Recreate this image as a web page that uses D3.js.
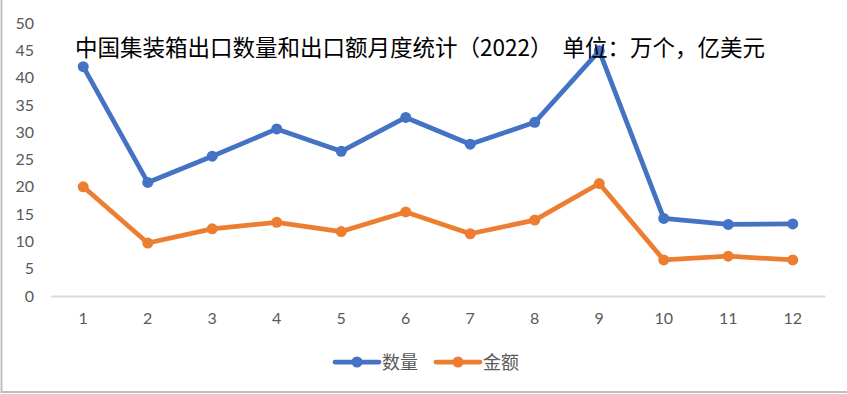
<!DOCTYPE html>
<html>
<head>
<meta charset="utf-8">
<script src="https://cdn.jsdelivr.net/npm/d3@7"></script>
<style>
  body { margin: 0; background: #fff; }
  svg { display: block; }
</style>
</head>
<body>
<div class="svg"></div>
<script>
var months = ["1", "2", "3", "4", "5", "6", "7", "8", "9", "10", "11", "12"];
var quantity = [42.0, 20.8, 25.6, 30.6, 26.5, 32.7, 27.8, 31.8, 44.9, 14.2, 13.1, 13.2];
var amount = [20.0, 9.7, 12.3, 13.5, 11.8, 15.4, 11.4, 13.9, 20.6, 6.6, 7.3, 6.6];
var yTicks = [0, 5, 10, 15, 20, 25, 30, 35, 40, 45, 50];
var seriesNames = ["数量", "金额"];
var title = "中国集装箱出口数量和出口额月度统计（2022）  单位：万个，亿美元";

var w = 847, h = 394;
var margin = { top: 23, bottom: 98, left: 51, right: 22 };
var width = w - margin.left - margin.right;
var height = h - margin.top - margin.bottom;
var colors = ["#4472C4", "#ED7D31"];
var numFont = "Lato, 'Noto Sans CJK SC', sans-serif";
var cjkFont = "'Noto Sans CJK SC', sans-serif";

var svg = d3.select(".svg").append("svg").attr("width", w).attr("height", h);

// chart border (only left and bottom show)
svg.append("rect")
  .attr("x", 1.5).attr("y", -5)
  .attr("width", 860).attr("height", 397)
  .attr("fill", "none")
  .attr("stroke", "#bfbfbf")
  .attr("stroke-width", 2);

var chart = svg.append("g")
  .attr("transform", "translate(" + margin.left + "," + margin.top + ")");

var xScale = d3.scaleBand().domain(months).range([0, width]);
var yScale = d3.scaleLinear().domain([0, 50]).range([height, 0]);

var xAxis = d3.axisBottom(xScale).tickSize(0).tickPadding(17);
var yAxis = d3.axisLeft(yScale).tickValues(yTicks).tickSize(0).tickPadding(17);

var gx = chart.append("g")
  .attr("class", "x axis")
  .attr("transform", "translate(0," + height + ")")
  .call(xAxis);
gx.select(".domain").attr("stroke", "#d9d9d9").attr("stroke-width", 2);
gx.selectAll("text")
  .attr("fill", "#595959")
  .style("font-family", numFont)
  .style("font-size", "16px");

var gy = chart.append("g")
  .attr("class", "y axis")
  .call(yAxis);
gy.select(".domain").remove();
gy.selectAll("text")
  .attr("fill", "#595959")
  .style("font-family", numFont)
  .style("font-size", "16px");

var series = [quantity, amount];

var line = d3.line()
  .x(function(d, i) { return xScale(months[i]) + xScale.bandwidth() / 2; })
  .y(function(d) { return yScale(d); });

series.forEach(function(values, k) {
  chart.append("path")
    .datum(values)
    .attr("fill", "none")
    .attr("stroke", colors[k])
    .attr("stroke-width", 4.75)
    .attr("stroke-linejoin", "round")
    .attr("d", line);

  chart.selectAll(".dot" + k)
    .data(values)
    .enter()
    .append("circle")
    .attr("class", "dot" + k)
    .attr("cx", function(d, i) { return xScale(months[i]) + xScale.bandwidth() / 2; })
    .attr("cy", function(d) { return yScale(d); })
    .attr("r", 5.5)
    .attr("fill", colors[k]);
});

// title drawn over the plot
svg.append("text")
  .attr("x", 75)
  .attr("y", 56)
  .attr("fill", "#000")
  .style("font-family", cjkFont)
  .style("font-size", "22.5px")
  .style("white-space", "pre")
  .text(title);

// legend
var legend = svg.append("g").attr("transform", "translate(335,362)");
var legendX = [0, 101];
seriesNames.forEach(function(name, k) {
  var item = legend.append("g").attr("transform", "translate(" + legendX[k] + ",0)");
  item.append("line")
    .attr("x1", 0).attr("x2", 44)
    .attr("y1", 0).attr("y2", 0)
    .attr("stroke", colors[k])
    .attr("stroke-width", 4.75)
    .attr("stroke-linecap", "round");
  item.append("circle")
    .attr("cx", 22).attr("cy", 0)
    .attr("r", 5.5)
    .attr("fill", colors[k]);
  item.append("text")
    .attr("x", 47).attr("y", 6.5)
    .attr("fill", "#595959")
    .style("font-family", cjkFont)
    .style("font-size", "18px")
    .text(name);
});
</script>
</body>
</html>
